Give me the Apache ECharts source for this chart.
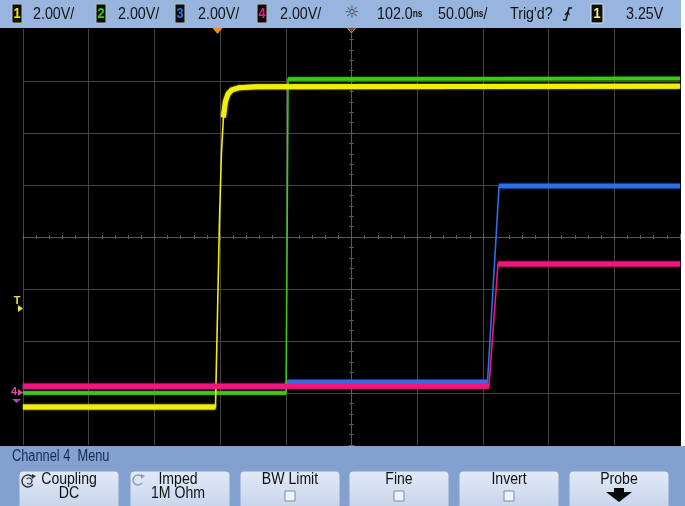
<!DOCTYPE html>
<html>
<head>
<meta charset="utf-8">
<script src="https://cdn.jsdelivr.net/npm/echarts@6/dist/echarts.min.js"></script>
<style>
  html, body { margin: 0; padding: 0; background: #ffffff; }
  #scope { width: 685px; height: 506px; }
</style>
</head>
<body>
<div id="scope"></div>
<script>
// Acquisition settings
const TIME_PER_DIV = 50;        // ns / div
const DELAY = 102.0;            // ns at screen centre
const VOLTS_PER_DIV = [2, 2, 2, 2];
const GROUND_DIV = [-2.935, -3.0, -2.79, -3.0];   // ground reference position of each channel, div from centre
const TRIGGER_LEVEL = 3.25;     // V, channel 1

// Channel 1 (yellow)
const ch1Time  = [-148, -1.5, 0, 1.5, 3, 4.5, 6, 8, 11, 16, 30, 352];
const ch1Volts = [-0.67, -0.67, 2.87, 6.47, 9.07, 10.47, 11.07, 11.37, 11.53, 11.61, 11.65, 11.67];

// Channel 2 (green)
const ch2Time  = [-148, 52.2, 53.0, 53.7, 352];
const ch2Volts = [0, 0, 6.0, 12.08, 12.1];

// Channel 3 (blue)
const ch3Time  = [-148, 52.5, 53.5, 205.5, 214.3, 352];
const ch3Volts = [-0.16, -0.16, 0, 0, 7.54, 7.54];

// Channel 4 (pink)
const ch4Time  = [-148, 206.6, 213.5, 352];
const ch4Volts = [0.26, 0.26, 4.96, 4.96];

// Status line and softkey labels
const vScaleLabels = ['2.00V/', '2.00V/', '2.00V/', '2.00V/'];
const softkeyTop = ['Coupling', 'Imped', 'BW Limit', 'Fine', 'Invert', 'Probe'];
const softkeyBottom = ['DC', '1M Ohm', '', '', '', ''];

const CH_COLORS = ['#f2ee0c', '#3cc81e', '#2d6fe8', '#f0167e'];
const CH_WIDTHS = [5, 3.5, 4.5, 5];
const EDGE_WIDTH = 1.6;
const FONT = '"Liberation Sans", Arial, sans-serif';

function toScreen(ch, times, volts) {
  return times.map((t, i) => [
    (t - DELAY) / TIME_PER_DIV,
    volts[i] / VOLTS_PER_DIV[ch] + GROUND_DIV[ch]
  ]);
}

// Flat stretches of a trace are bright and thick; fast edges are faint and thin.
function flatParts(pts) {
  const out = [];
  for (let i = 0; i < pts.length - 1; i++) {
    const a = pts[i], b = pts[i + 1];
    const slope = Math.abs(b[1] - a[1]) / Math.max(1e-6, Math.abs(b[0] - a[0]));
    if (slope < 15) {
      const last = out[out.length - 1];
      if (last && last[0] === a[0] && last[1] === a[1]) {
        out.push(b);
      } else {
        if (out.length) out.push(null);
        out.push(a, b);
      }
    }
  }
  return out;
}

const traces = [
  { ch: 2, t: ch3Time, v: ch3Volts },
  { ch: 1, t: ch2Time, v: ch2Volts },
  { ch: 0, t: ch1Time, v: ch1Volts },
  { ch: 3, t: ch4Time, v: ch4Volts }
];

const GRID = { left: 23, top: 29, width: 657, height: 416 };
const gridGrey = '#444444';
const centreGrey = '#5e5e5e';

const centreAxisCommon = {
  type: 'value',
  axisLabel: { show: false },
  axisLine: { show: true, onZero: true, lineStyle: { color: centreGrey, width: 1, type: [2, 2] } },
  axisTick: { show: true, length: 3, lineStyle: { color: centreGrey } },
  minorTick: { show: true, splitNumber: 5, length: 2, lineStyle: { color: centreGrey } },
  splitLine: { show: false }
};

const series = [];
traces.forEach(tr => {
  const pts = toScreen(tr.ch, tr.t, tr.v);
  series.push({
    type: 'line', name: 'Channel ' + (tr.ch + 1) + ' edge',
    data: pts, showSymbol: false, clip: true,
    lineStyle: { color: CH_COLORS[tr.ch], width: EDGE_WIDTH },
    z: 3
  });
  series.push({
    type: 'line', name: 'Channel ' + (tr.ch + 1),
    data: flatParts(pts), showSymbol: false, clip: true, connectNulls: false,
    lineStyle: { color: CH_COLORS[tr.ch], width: CH_WIDTHS[tr.ch], shadowColor: CH_COLORS[tr.ch], shadowBlur: 2 },
    z: 3
  });
});

const option = {
  backgroundColor: '#000000',
  animation: false,
  grid: GRID,
  xAxis: [
    Object.assign({}, centreAxisCommon, {
      min: -5, max: 5, interval: 1, position: 'bottom',
      splitLine: { show: true, showMinLine: true, showMaxLine: false, lineStyle: { color: gridGrey, width: 1 } }
    }),
    Object.assign({}, centreAxisCommon, { min: -5, max: 5, interval: 1, position: 'top' })
  ],
  yAxis: [
    Object.assign({}, centreAxisCommon, {
      min: -4, max: 4, interval: 1, position: 'left',
      splitLine: { show: true, showMinLine: false, showMaxLine: false, lineStyle: { color: gridGrey, width: 1 } }
    }),
    Object.assign({}, centreAxisCommon, { min: -4, max: 4, interval: 1, position: 'right' })
  ],
  series: series
};

const chart = echarts.init(document.getElementById('scope'), null, { renderer: 'canvas' });
chart.setOption(option);

// ---- status line, markers and softkeys drawn around the graticule ----
const px = (xd, yd) => chart.convertToPixel({ gridIndex: 0 }, [xd, yd]);
const g = [];

// status line background
g.push({ type: 'rect', shape: { x: 0, y: 0, width: 681, height: 28 }, style: { fill: '#97b5df' }, z: 10 });
// softkey panel background
g.push({ type: 'rect', shape: { x: 0, y: 446, width: 685, height: 60 }, style: { fill: '#82a1d0' }, z: 10 });

function label(x, y, text, size, color, align, sx, extra) {
  g.push({ type: 'text', x: x, y: y, scaleX: sx,
           style: Object.assign({ text: text, fill: color, font: size + 'px ' + FONT,
                                  align: align, verticalAlign: 'middle' }, extra || {}), z: 12 });
}
function chanBox(x, num, color, w, border) {
  g.push({ type: 'rect', shape: { x: x, y: 4, width: w, height: 19, r: 1 },
           style: { fill: '#0c0c0c', stroke: border, lineWidth: 1 }, z: 11 });
  g.push({ type: 'text', x: x + w / 2, y: 14, scaleX: 0.85,
           style: { text: String(num), fill: color, font: 'bold 15px ' + FONT, align: 'center', verticalAlign: 'middle' }, z: 12 });
}
const STATUS_Y = 14;
const rich = { u: { font: 'bold 10px ' + FONT, fill: '#141414' } };
function statusText(x, text) { label(x, STATUS_Y, text, 17, '#141414', 'left', 0.84, { rich: rich }); }

const boxX = [12, 96, 175, 257];
const scaleX = [33, 118, 198, 280];
for (let i = 0; i < 4; i++) {
  chanBox(boxX[i], i + 1, CH_COLORS[i], 10, '#b8c0b0');
  statusText(scaleX[i], vScaleLabels[i]);
}
// intensity icon
g.push({ type: 'text', x: 352, y: STATUS_Y,
         style: { text: '\u263C', fill: '#3a3a3a', font: '17px DejaVu Sans', align: 'center', verticalAlign: 'middle' }, z: 12 });
statusText(377, DELAY.toFixed(1) + '{u|ns}');
statusText(438, TIME_PER_DIV.toFixed(2) + '{u|ns}/');
statusText(510, "Trig'd?");
// rising edge symbol
g.push({ type: 'polyline', shape: { points: [[563, 20], [566, 20], [569, 8], [572, 8]] },
         style: { stroke: '#141414', lineWidth: 1.5, fill: null }, z: 12 });
g.push({ type: 'polyline', shape: { points: [[565, 15], [567.6, 12], [569.5, 15]] },
         style: { stroke: '#141414', lineWidth: 1.2, fill: null }, z: 12 });
// trigger source
chanBox(591, 1, '#f6f27a', 12, '#e8e8e8');
statusText(626, TRIGGER_LEVEL.toFixed(2) + 'V');

// trigger point marker (t = 0) and delay marker (screen centre)
const trigX = px((0 - DELAY) / TIME_PER_DIV, 4)[0];
g.push({ type: 'polygon', shape: { points: [[trigX - 5, 28], [trigX + 5, 28], [trigX, 34]] },
         style: { fill: '#f08a1c' }, z: 12 });
const cenX = px(0, 4)[0];
g.push({ type: 'polygon', shape: { points: [[cenX - 4, 28], [cenX + 4, 28], [cenX, 33]] },
         style: { fill: null, stroke: '#e08a30', lineWidth: 1 }, z: 12 });

// trigger level marker
const trigY = px(-5, TRIGGER_LEVEL / VOLTS_PER_DIV[0] + GROUND_DIV[0])[1];
g.push({ type: 'text', x: 17, y: trigY - 4,
         style: { text: 'T', fill: '#e8e040', font: 'bold 11px ' + FONT, align: 'center', verticalAlign: 'middle' }, z: 12 });
g.push({ type: 'polygon', shape: { points: [[18, trigY], [18, trigY + 7], [23, trigY + 3.5]] },
         style: { fill: '#e8e040' }, z: 12 });

// channel 4 ground marker
const gndY = px(-5, GROUND_DIV[3])[1];
g.push({ type: 'text', x: 14, y: gndY - 1,
         style: { text: '4', fill: '#d84aa8', font: 'bold 11px ' + FONT, align: 'center', verticalAlign: 'middle' }, z: 12 });
g.push({ type: 'polygon', shape: { points: [[18, gndY - 4], [18, gndY + 3], [23, gndY - 0.5]] },
         style: { fill: '#d84aa8' }, z: 12 });
g.push({ type: 'polygon', shape: { points: [[12, gndY + 6], [21, gndY + 6], [16.5, gndY + 10]] },
         style: { fill: '#a848b8' }, z: 12 });

// softkey menu title
label(12, 457, 'Channel 4  Menu', 16, '#16284a', 'left', 0.8);

// softkeys
const keyX = [19, 130, 240, 349, 459, 569];
const KEY_W = 100;
const keyTextX = [69, 178, 290, 399, 509, 619];
for (let i = 0; i < 6; i++) {
  const x = keyX[i];
  g.push({ type: 'rect', shape: { x: x, y: 471, width: KEY_W, height: 40, r: 4 },
           style: { fill: new echarts.graphic.LinearGradient(0, 0, 0, 1, [
             { offset: 0, color: '#e2eaf8' }, { offset: 1, color: '#c4d2ea' }]),
             stroke: '#8aa0c4', lineWidth: 1 }, z: 11 });
  const cx = x + KEY_W / 2;
  const tx = keyTextX[i];
  label(tx, 480, softkeyTop[i], 16, '#101010', 'center', 0.88);
  if (softkeyBottom[i]) {
    label(tx, 494, softkeyBottom[i], 16, '#101010', 'center', 0.88);
  } else if (i >= 2 && i <= 4) {
    g.push({ type: 'rect', shape: { x: cx - 5, y: 491, width: 10, height: 10 },
             style: { fill: '#eef2fa', stroke: '#7e8ca6', lineWidth: 1 }, z: 12 });
  } else if (i === 5) {
    g.push({ type: 'polygon', shape: { points: [[cx - 5, 488], [cx + 5, 488], [cx + 5, 492], [cx + 13, 492],
                                                [cx, 502], [cx - 13, 492], [cx - 5, 492]] },
             style: { fill: '#0a0a0a' }, z: 12 });
  }
}
// coupling / impedance cycle icons
g.push({ type: 'arc', shape: { cx: 28, cy: 481, r: 6, startAngle: 0.6, endAngle: 5.6 },
         style: { stroke: '#303030', lineWidth: 1.4, fill: null }, z: 12 });
g.push({ type: 'arc', shape: { cx: 29, cy: 481, r: 3, startAngle: 3.8, endAngle: 8.6 },
         style: { stroke: '#303030', lineWidth: 1.2, fill: null }, z: 12 });
g.push({ type: 'polygon', shape: { points: [[32, 474], [36, 476], [32, 479]] }, style: { fill: '#303030' }, z: 12 });
g.push({ type: 'arc', shape: { cx: 138, cy: 480, r: 5, startAngle: 0.6, endAngle: 5.6 },
         style: { stroke: '#8c9cb4', lineWidth: 1.4, fill: null }, z: 12 });
g.push({ type: 'polygon', shape: { points: [[141, 474], [145, 476], [141, 479]] }, style: { fill: '#8c9cb4' }, z: 12 });

// white strip to the right of the status line and graticule
g.push({ type: 'rect', shape: { x: 681, y: 0, width: 4, height: 446 }, style: { fill: '#ffffff' }, z: 13 });

chart.setOption({ graphic: { elements: g } });
</script>
</body>
</html>
